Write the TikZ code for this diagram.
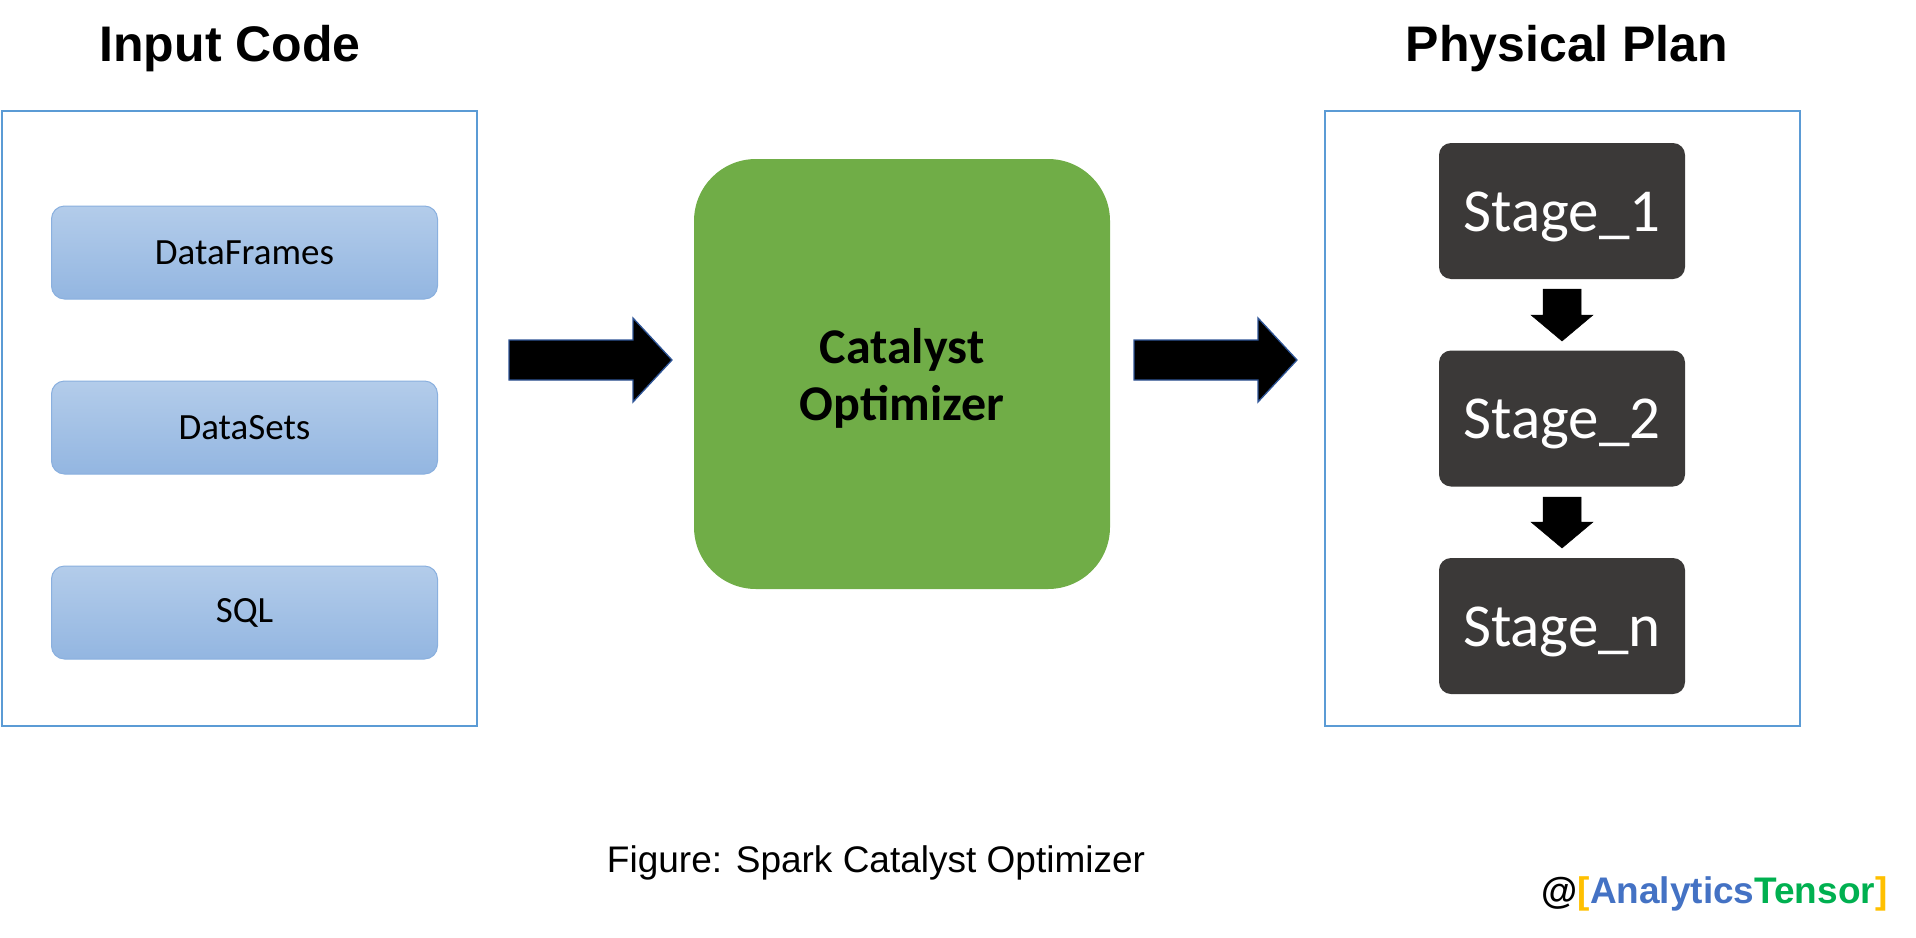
\documentclass[tikz,border=0pt]{standalone}
\usepackage{fontspec}
\setmainfont{Liberation Sans}
\newfontfamily\calibrifont{Carlito}
\usetikzlibrary{calc}
\definecolor{framecol}{HTML}{5B9BD5}
\definecolor{boxtop}{HTML}{B3CCEA}
\definecolor{boxbot}{HTML}{93B6E1}
\definecolor{boxline}{HTML}{8AB0DF}
\definecolor{catgreen}{HTML}{70AD47}
\definecolor{stagegray}{HTML}{3B3938}
\definecolor{arrowline}{HTML}{2F5597}
\definecolor{wmgold}{HTML}{FFC000}
\definecolor{wmblue}{HTML}{4472C4}
\definecolor{wmgreen}{HTML}{00B050}
\tikzset{
  frame/.style={draw=framecol, line width=1.5pt, fill=white, minimum width=475pt, minimum height=615pt, inner sep=0pt},
  inbox/.style={draw=boxline, line width=1pt, rounded corners=13pt, top color=boxtop, bottom color=boxbot,
     minimum width=386pt, minimum height=93pt, inner sep=0pt, font=\calibrifont\fontsize{37}{44}\selectfont},
  catbox/.style={fill=catgreen, rounded corners=62pt, minimum width=416pt, minimum height=430pt, inner sep=0pt},
  cattext/.style={align=center, yshift=-4pt, font=\calibrifont\bfseries\fontsize{50}{57}\selectfont},
  stagebox/.style={fill=stagegray, rounded corners=12pt, minimum width=246pt, minimum height=136pt, inner sep=0pt,
     text=white, text height=46pt, text depth=6pt, font=\calibrifont\fontsize{61}{72}\selectfont},
  bigarrow/.style={fill=black, draw=arrowline, line width=1.3pt, line join=miter},
  downarrow/.style={fill=black, draw=black, line width=0.5pt, line join=miter},
  title/.style={font=\bfseries\fontsize{50}{60}\selectfont},
}
% horizontal block arrow: start x, end x, centre y
\newcommand\hblockarrow[3]{%
  \draw[bigarrow] (#1,{#3-20}) -- ({#2-39},{#3-20}) -- ({#2-39},{#3-42}) -- (#2,#3)
    -- ({#2-39},{#3+42}) -- ({#2-39},{#3+20}) -- (#1,{#3+20}) -- cycle;}
% vertical block arrow: centre x, start y, end y
\newcommand\vblockarrow[3]{%
  \draw[downarrow] ({#1-19},#2) -- ({#1+19},#2) -- ({#1+19},{#3-26}) -- ({#1+31},{#3-26}) -- (#1,#3)
    -- ({#1-31},{#3-26}) -- ({#1-19},{#3-26}) -- cycle;}
\begin{document}
\begin{tikzpicture}[x=1pt, y=-1pt]
\useasboundingbox (0,0) rectangle (1916,937);
% titles
\node[title] (tin) at (230,49) {Input Code};
\node[title] (tout) at (1567,49) {Physical Plan};
% left frame
\node[frame] (inframe) at (239.5,418.5) {};
\node[inbox] (df) at (244.5,252.5) {DataFrames};
\node[inbox] (ds) at (244.5,427.5) {DataSets};
\node[inbox] (sql) at (244.5,612.5) {SQL};
% catalyst
\node[catbox] (cat) at (902,374) {};
\node[cattext] (cattxt) at (cat.center) {Catalyst\\Optimizer};
% right frame
\node[frame] (outframe) at (1562.5,418.5) {};
\node[stagebox] (s1) at (1562,211) {Stage\_1};
\node[stagebox] (s2) at (1562,418.5) {Stage\_2};
\node[stagebox] (sn) at (1562,626) {Stage\_n};
% big arrows
\hblockarrow{509}{672}{360}
\hblockarrow{1134}{1297}{360}
% down arrows
\vblockarrow{1562}{289}{341}
\vblockarrow{1562}{497}{548}
% caption
\node[font=\fontsize{37}{44}\selectfont] (cap) at (876,863) {Figure: Spark Catalyst Optimizer};
\node[anchor=east, font=\bfseries\fontsize{37}{44}\selectfont] (wm) at (1891,894)
  {@\textcolor{wmgold}{[}\textcolor{wmblue}{Analytics}\textcolor{wmgreen}{Tensor}\textcolor{wmgold}{]}};
\end{tikzpicture}
\end{document}
